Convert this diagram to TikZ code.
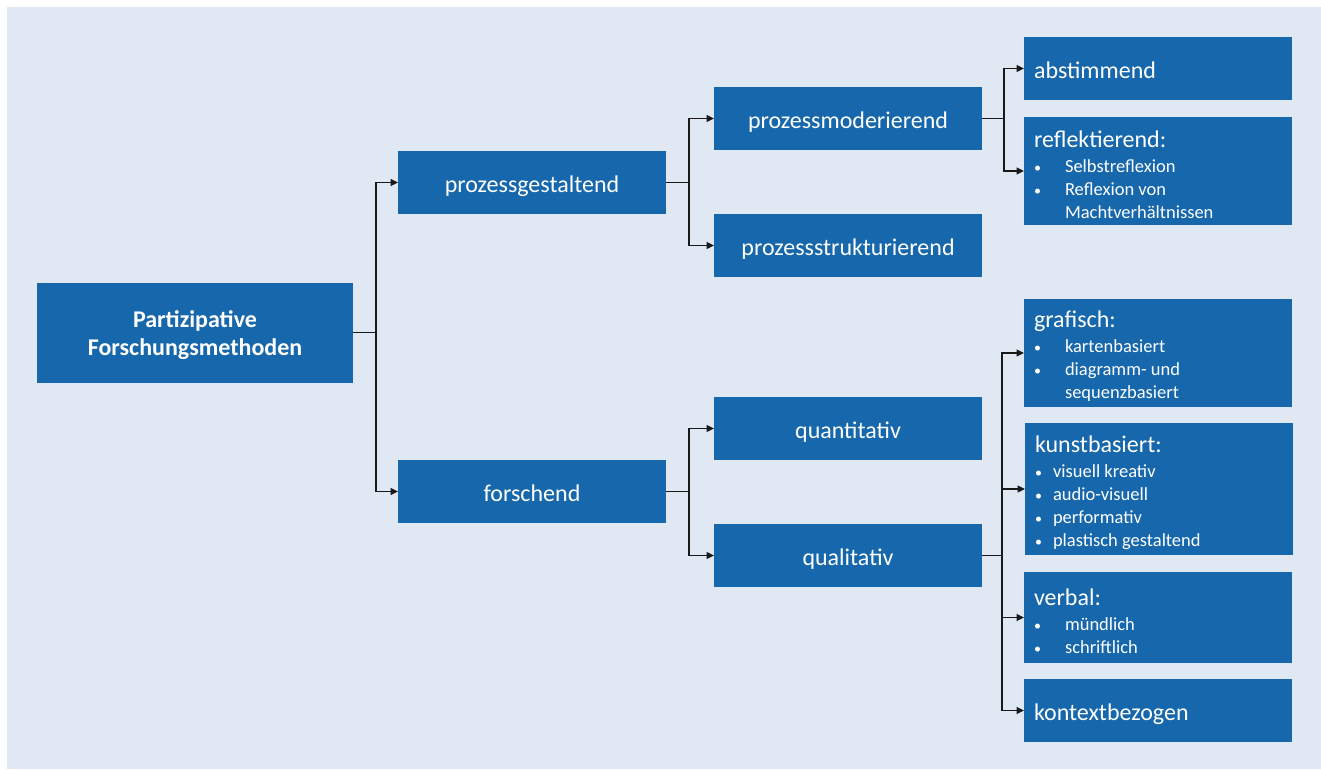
\documentclass[tikz,border=0pt]{standalone}
\usepackage{fontspec}
\setmainfont{Carlito}
\usepackage{tikz}
\usetikzlibrary{arrows.meta}
\definecolor{boxblue}{RGB}{22,103,171}
\definecolor{bgblue}{RGB}{223,232,243}
\newcommand{\bigfont}{\fontsize{24}{29}\selectfont}
\newcommand{\smallfont}{\fontsize{18.5}{23}\selectfont}
\newcommand{\boxhead}[1]{{\bigfont\rule{0pt}{23.5pt}#1}\\[2pt]}
\newcommand{\bitem}[2][31pt]{\makebox[#1][l]{{\fontsize{14}{14}\selectfont\textbullet}}#2}
\tikzset{
    basenode/.style = {
        rectangle,
        fill=boxblue,
        text=white,
        minimum width=268pt,
        inner sep=0pt,
        outer sep=0pt
    },
    catnode/.style = {
        basenode,
        font=\bigfont,
        align=center,
        minimum height=63pt,
        text height=20pt,
        text depth=1pt
    },
    leafnode/.style = {
        catnode,
        align=flush left,
        text width=248pt,
        inner xsep=10pt
    },
    listnode/.style = {
        basenode,
        font=\smallfont,
        align=flush left,
        text width=248pt,
        inner xsep=10pt
    },
    rootnode/.style = {
        basenode,
        font=\fontsize{24}{28}\selectfont\bfseries,
        align=center,
        minimum width=316pt,
        minimum height=100pt
    },
    link/.style = {
        draw=black!90,
        line width=1.3pt,
        -{Triangle[length=7.5pt,width=7pt]}
    }
}

\begin{document}
\begin{tikzpicture}[x=1pt,y=-1pt]
    \useasboundingbox (0,0) rectangle (1321,769);
    \fill[bgblue] (7,7) rectangle (1321,769);

    % first and second level
    \node [rootnode] (root) at (195,332.5) {\rule{0pt}{23pt}Partizipative\\Forschungsmethoden};
    \node [catnode] (gestalt) at (532,182.5) {prozessgestaltend};
    \node [catnode] (forsch) at (532,491.5) {forschend};
    \node [catnode] (moder) at (848,118.5) {prozessmoderierend};
    \node [catnode] (struktur) at (848,245.5) {prozessstrukturierend};
    \node [catnode] (quanti) at (848,428.5) {quantitativ};
    \node [catnode] (quali) at (848,555.5) {qualitativ};

    % leaves
    \node [leafnode] (abstimm) at (1158,68.5) {abstimmend};
    \node [listnode, minimum height=108pt] (reflekt) at (1158,171) {%
        \boxhead{reflektierend:}
        \bitem{Selbstreflexion}\\
        \bitem{Reflexion von}\\
        \hspace*{31pt}Machtverhältnissen};
    \node [listnode, minimum height=108pt] (grafisch) at (1158,353) {%
        \boxhead{grafisch:}
        \bitem{kartenbasiert}\\
        \bitem{diagramm- und}\\
        \hspace*{31pt}sequenzbasiert};
    \node [listnode, minimum height=132pt] (kunst) at (1159,489) {%
        \boxhead{kunstbasiert:}
        \bitem[18pt]{visuell kreativ}\\
        \bitem[18pt]{audio-visuell}\\
        \bitem[18pt]{performativ}\\
        \bitem[18pt]{plastisch gestaltend}};
    \node [listnode, minimum height=91pt] (verbal) at (1158,617.5) {%
        \boxhead{verbal:}
        \bitem{mündlich}\\
        \bitem{schriftlich}};
    \node [leafnode] (kontext) at (1158,710.5) {kontextbezogen};

    % connectors
    \draw[link] (root.east) -- ++(23,0) |- (gestalt);
    \draw[link] (root.east) -- ++(23,0) |- (forsch);
    \draw[link] (gestalt.east) -- ++(23,0) |- (moder);
    \draw[link] (gestalt.east) -- ++(23,0) |- (struktur);
    \draw[link] (forsch.east) -- ++(23,0) |- (quanti);
    \draw[link] (forsch.east) -- ++(23,0) |- (quali);
    \draw[link] (moder.east) -- ++(22,0) |- (abstimm);
    \draw[link] (moder.east) -- ++(22,0) |- (reflekt);
    \draw[link] (quali.east) -- ++(20,0) |- (grafisch);
    \draw[link] (quali.east) -- ++(20,0) |- (kunst);
    \draw[link] (quali.east) -- ++(20,0) |- (verbal);
    \draw[link] (quali.east) -- ++(20,0) |- (kontext);
\end{tikzpicture}
\end{document}
